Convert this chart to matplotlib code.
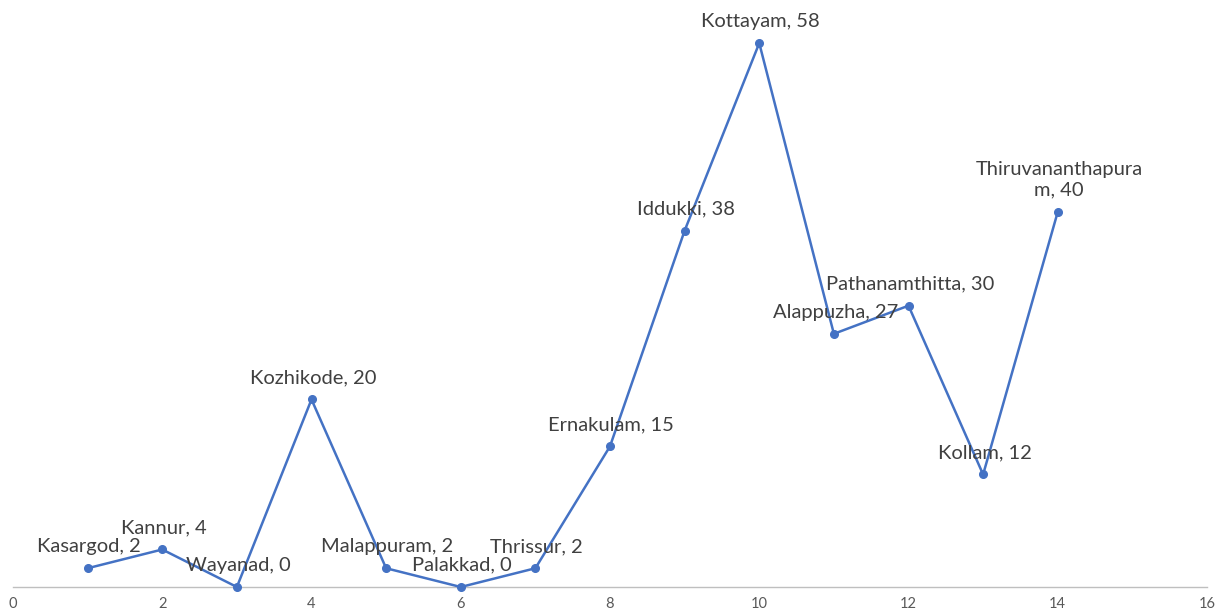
import matplotlib
matplotlib.use("Agg")
import matplotlib.pyplot as plt

districts = ["Kasargod", "Kannur", "Wayanad", "Kozhikode", "Malappuram", "Palakkad",
             "Thrissur", "Ernakulam", "Iddukki", "Kottayam", "Alappuzha",
             "Pathanamthitta", "Kollam", "Thiruvananthapura\nm"]
x_vals = [1, 2, 3, 4, 5, 6, 7, 8, 9, 10, 11, 12, 13, 14]
y_vals = [2, 4, 0, 20, 2, 0, 2, 15, 38, 58, 27, 30, 12, 40]
x_ticks = [0, 2, 4, 6, 8, 10, 12, 14, 16]

W, H = 1221, 611
fig = plt.figure(figsize=(W / 100, H / 100), dpi=100)
ax = fig.add_axes([13 / W, (H - 587) / H, (1207 - 13) / W, 587 / H])

ax.plot(x_vals, y_vals, color="#4472C4", linewidth=1.8, marker="o",
        markersize=5.5, clip_on=False, zorder=3)

for name, xv, yv in zip(districts, x_vals, y_vals):
    ax.annotate(f"{name}, {yv}", (xv, yv), xytext=(1, 9.5), textcoords="offset points",
                ha="center", va="bottom", fontsize=14.5, color="#404040",
                family="Lato", linespacing=1.25, annotation_clip=False, zorder=4)

ax.set_xlim(0, 16)
ax.set_ylim(0, 62.6)
ax.set_xticks(x_ticks)
ax.set_xticklabels([str(t) for t in x_ticks], fontsize=10.5, color="#595959", family="Lato")
ax.tick_params(axis="x", length=0, pad=7)
ax.set_yticks([])
for s in ["top", "right", "left"]:
    ax.spines[s].set_visible(False)
ax.spines["bottom"].set_color("#BFBFBF")
ax.spines["bottom"].set_linewidth(1.0)

fig.savefig("out.png", dpi=100)
